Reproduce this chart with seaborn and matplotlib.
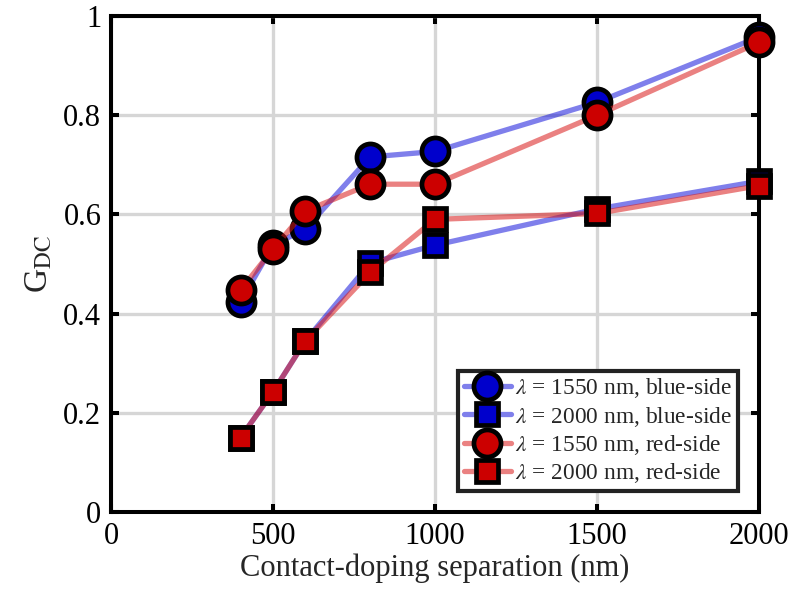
import matplotlib
matplotlib.use("Agg")
import matplotlib.pyplot as plt
import seaborn as sns
import pandas as pd

separation = [400, 500, 600, 800, 1000, 1500, 2000]
blue_1550 = [0.424, 0.538, 0.571, 0.716, 0.727, 0.826, 0.958]
blue_2000 = [0.150, 0.242, 0.345, 0.502, 0.538, 0.611, 0.667]
red_1550 = [0.448, 0.530, 0.607, 0.661, 0.661, 0.800, 0.947]
red_2000 = [0.150, 0.242, 0.345, 0.483, 0.590, 0.602, 0.658]
labels = [r"$\lambda$ = 1550 nm, blue-side", r"$\lambda$ = 2000 nm, blue-side",
          r"$\lambda$ = 1550 nm, red-side", r"$\lambda$ = 2000 nm, red-side"]

sns.set_theme(style="white")
plt.rcParams["font.family"] = ["Liberation Serif", "DejaVu Serif"]
plt.rcParams["mathtext.fontset"] = "stix"

fig, ax = plt.subplots(figsize=(7.93, 5.98), dpi=100)
fig.subplots_adjust(left=0.14, right=0.957, top=0.973, bottom=0.144)

series = [blue_1550, blue_2000, red_1550, red_2000]
markers = ["o", "s", "o", "s"]
face = ["#0000cc", "#0000cc", "#cc0000", "#cc0000"]
linec = [(0.0, 0.0, 0.85, 0.5), (0.0, 0.0, 0.85, 0.5), (0.85, 0.1, 0.1, 0.55), (0.85, 0.1, 0.1, 0.55)]
msize = [19.5, 15.5, 19.5, 15.5]

for i, (vals, mk, fc, lc, ms, lab) in enumerate(zip(series, markers, face, linec, msize, labels)):
    df = pd.DataFrame({"x": separation, "y": vals})
    sns.lineplot(data=df, x="x", y="y", ax=ax, color=lc, lw=3.8, marker=mk,
                 markersize=ms, markerfacecolor=fc, markeredgecolor="black",
                 markeredgewidth=3.4, label=lab, zorder=3 + i, clip_on=False)

ax.set_xlim(0, 2000)
ax.set_ylim(0, 1)
ax.set_xticks([0, 500, 1000, 1500, 2000])
ax.set_yticks([0, 0.2, 0.4, 0.6, 0.8, 1])
ax.set_yticklabels(["0", "0.2", "0.4", "0.6", "0.8", "1"])
ax.grid(True, color="#d6d6d6", lw=2.4)
ax.set_axisbelow(True)
for s in ax.spines.values():
    s.set_color("black")
    s.set_linewidth(2.9)
ax.tick_params(direction="in", length=6, width=2.9, labelsize=22, colors="black",
               top=True, right=True, bottom=True, left=True, pad=7)
ax.set_xlabel("Contact-doping separation (nm)", fontsize=22, labelpad=2)
ax.set_ylabel(r"G$_{\mathrm{DC}}$", fontsize=24, labelpad=6)

leg = ax.legend(loc="lower right", fontsize=16.8, frameon=True, fancybox=False,
                edgecolor="#222222", handlelength=2.0, handletextpad=0.2,
                borderpad=0.25, labelspacing=0.18, borderaxespad=0.9,
                framealpha=1)
leg.get_frame().set_linewidth(3.0)
leg.set_zorder(20)

fig.savefig("out.png", dpi=100)
